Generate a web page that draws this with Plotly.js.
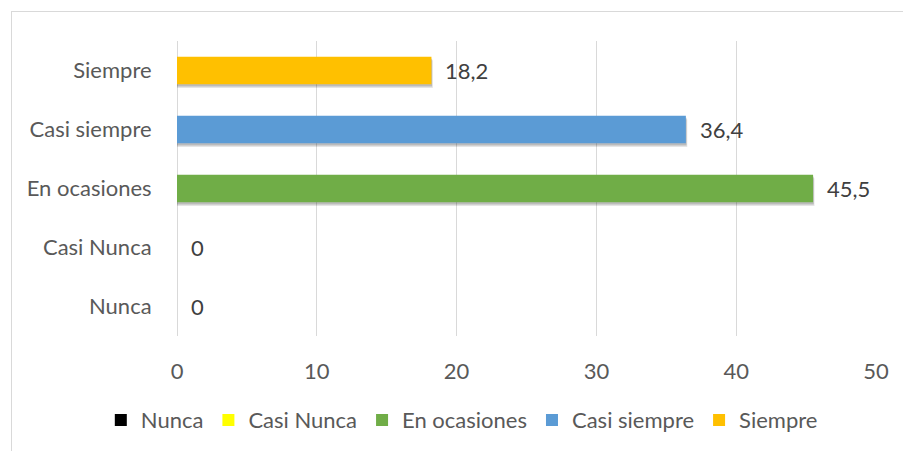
<!DOCTYPE html>
<html>
<head>
<meta charset="utf-8">
<script src="https://cdn.plot.ly/plotly-3.0.1.min.js"></script>
<style>
  html, body { margin: 0; padding: 0; background: #ffffff; overflow: hidden; }
  #frame { position: absolute; left: 10.5px; top: 10.5px; width: 1000px; height: 1000px; border: 1px solid #d9d9d9; }
  #chart { position: absolute; left: 0; top: 0; width: 903px; height: 451px; }
</style>
</head>
<body>
<div id="frame"></div>
<div id="chart"></div>
<script>
const categories = ['Nunca', 'Casi Nunca', 'En ocasiones', 'Casi siempre', 'Siempre'];
const values = [0, 0, 45.5, 36.4, 18.2];
const colors = ['#000000', '#FFFF00', '#70AD47', '#5B9BD5', '#FFC000'];

const BAR_W = 0.47;
const FONT = 'Lato, "Open Sans", sans-serif';
const TXT = '#595959';
const FS = 22;

const traces = [];
// soft drop shadows (drawn first, under the bars)
categories.forEach((c, i) => {
  if (values[i] <= 0) return;
  [[0.06, 0.10, 'rgba(0,0,0,0.10)'], [0.035, 0.05, 'rgba(0,0,0,0.18)']].forEach(s => {
    traces.push({
      type: 'bar', orientation: 'h', y: [c], x: [values[i] + s[1]],
      width: BAR_W, offset: -BAR_W / 2 - s[0],
      marker: { color: s[2] }, showlegend: false, hoverinfo: 'skip'
    });
  });
});
categories.forEach((c, i) => {
  traces.push({
    type: 'bar', orientation: 'h', name: c, y: [c], x: [values[i]],
    width: BAR_W, offset: -BAR_W / 2,
    marker: { color: colors[i] }
  });
});

const annotations = categories.map((c, i) => ({
  x: values[i], y: c, xref: 'x', yref: 'y',
  text: String(values[i]).replace('.', ','),
  showarrow: false, xanchor: 'left', xshift: 12,
  font: { family: FONT, size: FS, color: '#404040' }
}));

const layout = {
  width: 903, height: 451,
  margin: { l: 177, r: 27, t: 41, b: 115, autoexpand: false },
  paper_bgcolor: 'rgba(0,0,0,0)', plot_bgcolor: 'rgba(0,0,0,0)',
  barmode: 'overlay',
  separators: ',.',
  showlegend: true,
  legend: {
    orientation: 'h', xref: 'paper', x: -0.109, xanchor: 'left',
    yref: 'paper', y: -0.285, yanchor: 'middle',
    font: { family: FONT, size: FS, color: TXT }, traceorder: 'normal',
    itemwidth: 30
  },
  xaxis: {
    range: [0, 50], dtick: 10, tick0: 0,
    showgrid: true, gridcolor: '#d9d9d9', gridwidth: 1,
    zeroline: true, zerolinecolor: '#d9d9d9', zerolinewidth: 1,
    showline: false, ticks: 'outside', ticklen: 16, tickcolor: 'rgba(0,0,0,0)',
    tickfont: { family: FONT, size: FS, color: TXT }, fixedrange: true
  },
  yaxis: {
    type: 'category', categoryorder: 'array', categoryarray: categories,
    showgrid: false, zeroline: false, showline: false,
    ticks: 'outside', ticklen: 20, tickcolor: 'rgba(0,0,0,0)',
    tickfont: { family: FONT, size: FS, color: TXT }, fixedrange: true
  },
  annotations: annotations
};

Plotly.newPlot('chart', traces, layout, { displayModeBar: false, staticPlot: true });
</script>
</body>
</html>
